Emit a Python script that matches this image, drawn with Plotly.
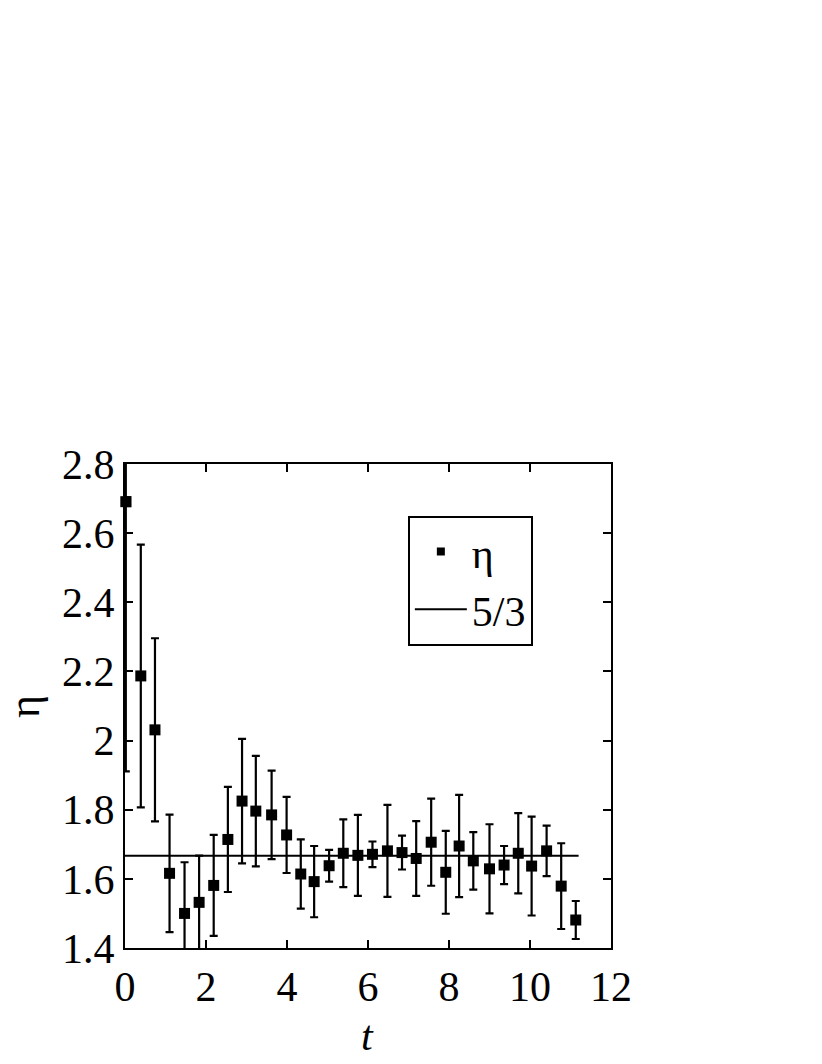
import plotly.graph_objects as go

# data
t = [0.02, 0.39, 0.74, 1.10, 1.47, 1.83, 2.19, 2.54, 2.89, 3.23, 3.62, 3.99,
     4.34, 4.67, 5.04, 5.39, 5.75, 6.11, 6.48, 6.84, 7.19, 7.56, 7.92, 8.25,
     8.60, 9.00, 9.36, 9.71, 10.04, 10.41, 10.77, 11.13]
eta = [2.691, 2.187, 2.031, 1.616, 1.500, 1.532, 1.581, 1.714, 1.825, 1.796,
       1.785, 1.727, 1.614, 1.592, 1.638, 1.674, 1.668, 1.671, 1.681, 1.676,
       1.659, 1.706, 1.619, 1.695, 1.652, 1.629, 1.640, 1.674, 1.637, 1.681,
       1.579, 1.481]
eta_err = [0.78, 0.38, 0.265, 0.17, 0.148, 0.135, 0.146, 0.152, 0.18, 0.16,
           0.128, 0.11, 0.10, 0.103, 0.046, 0.098, 0.117, 0.037, 0.133, 0.049,
           0.108, 0.126, 0.12, 0.148, 0.083, 0.129, 0.055, 0.116, 0.143, 0.073,
           0.124, 0.055]
ref_t = [0.0, 11.2]
ref_value = 5 / 3

x_ticks = [0, 2, 4, 6, 8, 10, 12]
x_ticktext = ["0", "2", "4", "6", "8", "10", "12"]
y_ticks = [1.4, 1.6, 1.8, 2.0, 2.2, 2.4, 2.6, 2.8]
y_ticktext = ["1.4", "1.6", "1.8", "2", "2.2", "2.4", "2.6", "2.8"]

FONT = "Liberation Serif, Times New Roman, serif"

fig = go.Figure()

# reference line 5/3
fig.add_trace(go.Scatter(
    x=ref_t, y=[ref_value] * len(ref_t), mode="lines",
    line=dict(color="black", width=2), showlegend=False, hoverinfo="skip"))

# data with error bars (clipped to the plot area)
fig.add_trace(go.Scatter(
    x=t, y=eta, mode="markers",
    marker=dict(symbol="square", size=11, color="black"),
    error_y=dict(type="data", array=eta_err, visible=True,
                 color="black", thickness=2.2, width=4),
    showlegend=False))

# first marker drawn unclipped (it sits on the axis)
fig.add_trace(go.Scatter(
    x=t[:1], y=eta[:1], mode="markers", cliponaxis=False,
    marker=dict(symbol="square", size=11, color="black"),
    showlegend=False, hoverinfo="skip"))

# legend entries
fig.add_trace(go.Scatter(
    x=[None], y=[None], mode="markers", name="η",
    marker=dict(symbol="square", size=8, color="black")))
fig.add_trace(go.Scatter(
    x=[None], y=[None], mode="lines", name="5/3",
    line=dict(color="black", width=2)))

axis_common = dict(
    showline=True, linecolor="black", linewidth=2.2, mirror="ticks",
    ticks="inside", ticklen=8, tickwidth=1.5, tickcolor="black",
    showgrid=False, zeroline=False, automargin=False,
    tickfont=dict(family=FONT, size=42, color="black"),
)

fig.update_xaxes(range=[0, 12], tickvals=x_ticks, ticktext=x_ticktext,
                 **axis_common)
fig.update_yaxes(range=[1.4, 2.8], tickvals=y_ticks, ticktext=y_ticktext,
                 **axis_common)

fig.update_layout(
    width=814, height=1056,
    margin=dict(l=117, r=211, t=456, b=116, pad=0),
    paper_bgcolor="white", plot_bgcolor="white",
    font=dict(family=FONT, color="black"),
    legend=dict(
        x=0.582, y=0.893, xanchor="left", yanchor="top",
        bgcolor="white", bordercolor="black", borderwidth=2,
        font=dict(family=FONT, size=42, color="black"),
        itemwidth=52, tracegroupgap=0,
    ),
    showlegend=True,
    annotations=[
        dict(text="η", xref="paper", yref="paper", x=-0.208, y=0.5,
             xanchor="center", yanchor="middle", textangle=-90,
             showarrow=False, font=dict(family=FONT, size=44, color="black")),
        dict(text="<i>t</i>", xref="paper", yref="paper", x=0.498, y=-0.182,
             xanchor="center", yanchor="middle",
             showarrow=False, font=dict(family=FONT, size=42, color="black")),
    ],
)

fig.write_html("out.html")
